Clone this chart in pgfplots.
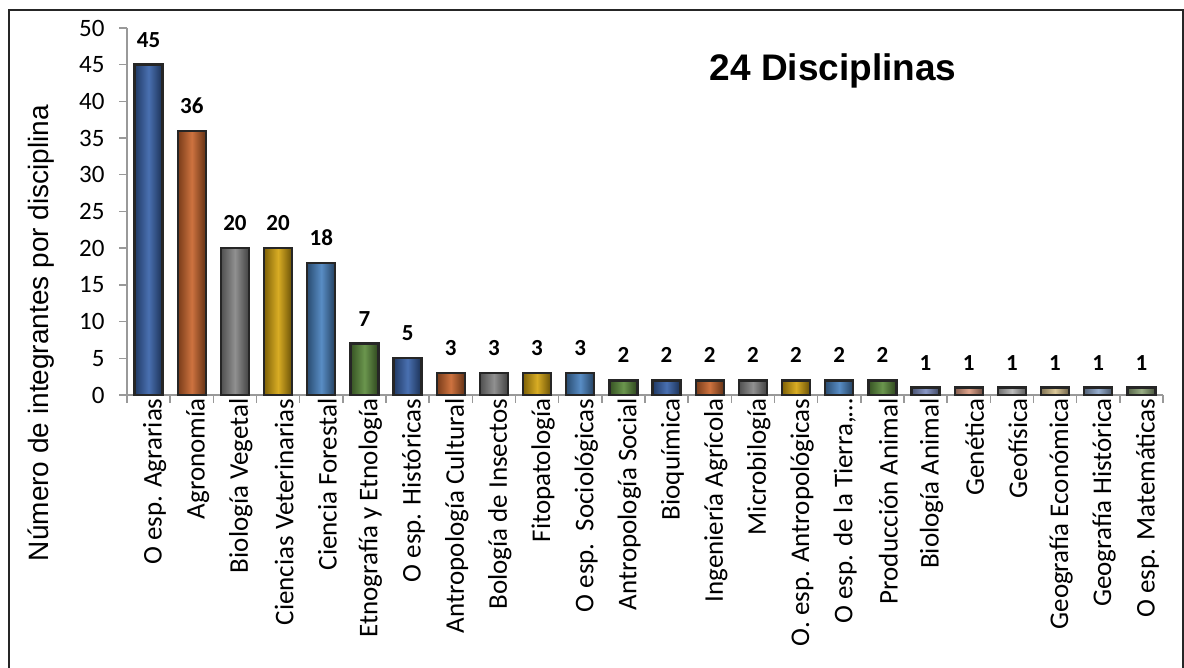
\documentclass[border=0pt]{standalone}
\usepackage{pgfplots}
\pgfplotsset{compat=1.18}
\usepackage{fontspec}
\setmainfont{Carlito}
\newfontfamily\arialf{Liberation Sans}
\definecolor{cBlue}{HTML}{3560A8}
\definecolor{cOrange}{HTML}{C8632A}
\definecolor{cGray}{HTML}{848484}
\definecolor{cGold}{HTML}{D4A30C}
\definecolor{cSteel}{HTML}{4680BE}
\definecolor{cGreen}{HTML}{5A8A3A}
\definecolor{cLav}{HTML}{7C8CC0}
\definecolor{cSalmon}{HTML}{DC9A80}
\definecolor{cLGray}{HTML}{B4B4B4}
\definecolor{cTan}{HTML}{D8C28E}
\definecolor{cLSteel}{HTML}{8CA6CA}
\definecolor{cSage}{HTML}{8EA678}
\pgfplotsset{bev/.style={left color=#1!60!black, right color=#1!50!black, middle color=#1!90!white, draw=black!85, line width=2.4pt}}
\begin{document}
\begin{tikzpicture}
\useasboundingbox (0pt,0pt) rectangle (1184pt,668pt);
\fill[white] (0pt,0pt) rectangle (1184pt,668pt);
\draw[line width=1.6pt, black!85] (9pt,0pt) -- (9pt,658pt) -- (1183pt,658pt) -- (1183pt,0pt);
\begin{axis}[
  at={(127pt,273pt)}, anchor=south west,
  scale only axis, width=1036pt, height=367pt,
  xmin=-0.5, xmax=23.5, ymin=0, ymax=50,
  axis x line*=bottom, axis y line*=left,
  axis line style={draw=black!40, line width=1.4pt, -},
  ytick={0,5,...,50},
  xtick={-0.5,0.5,...,23.5}, xticklabels={},
  tick align=outside, major tick length=8pt,
  tick style={draw=black!40, line width=1.4pt},
  /pgf/number format/assume math mode=true,
  yticklabel style={font=\fontsize{25}{28}\selectfont, xshift=-11pt},
  extra x ticks={0,...,23},
  extra x tick labels={O esp. Agrarias, Agronomía, Biología Vegetal, Ciencias Veterinarias, Ciencia Forestal, Etnografía y Etnología, O esp. Históricas, Antropología Cultural, Bología de Insectos, Fitopatología, O esp.\ \ Sociológicas, Antropología Social, Bioquímica, Ingeniería Agrícola, Microbilogía, O. esp. Antropológicas, {O esp. de la Tierra,…}, Producción Animal, Biología Animal, Genética, Geofísica, Geografía Económica, Geografía Histórica, O esp. Matemáticas},
  extra x tick style={major tick length=0pt, tick label style={rotate=90, anchor=east, font=\fontsize{27}{29}\selectfont, yshift=-6pt}},
  ybar, bar width=28pt, bar shift=0pt,
  nodes near coords,
  nodes near coords style={text=black, font=\bfseries\fontsize{23}{25}\selectfont, anchor=south, yshift=13pt},
  clip=false,
]
\addplot[bev=cBlue] coordinates {(0,45)};
\addplot[bev=cOrange] coordinates {(1,36)};
\addplot[bev=cGray] coordinates {(2,20)};
\addplot[bev=cGold] coordinates {(3,20)};
\addplot[bev=cSteel] coordinates {(4,18)};
\addplot[bev=cGreen] coordinates {(5,7)};
\addplot[bev=cBlue] coordinates {(6,5)};
\addplot[bev=cOrange] coordinates {(7,3)};
\addplot[bev=cGray] coordinates {(8,3)};
\addplot[bev=cGold] coordinates {(9,3)};
\addplot[bev=cSteel] coordinates {(10,3)};
\addplot[bev=cGreen] coordinates {(11,2)};
\addplot[bev=cBlue] coordinates {(12,2)};
\addplot[bev=cOrange] coordinates {(13,2)};
\addplot[bev=cGray] coordinates {(14,2)};
\addplot[bev=cGold] coordinates {(15,2)};
\addplot[bev=cSteel] coordinates {(16,2)};
\addplot[bev=cGreen] coordinates {(17,2)};
\addplot[bev=cLav] coordinates {(18,1)};
\addplot[bev=cSalmon] coordinates {(19,1)};
\addplot[bev=cLGray] coordinates {(20,1)};
\addplot[bev=cTan] coordinates {(21,1)};
\addplot[bev=cLSteel] coordinates {(22,1)};
\addplot[bev=cSage] coordinates {(23,1)};
\end{axis}
\node[rotate=90, font=\arialf\fontsize{28}{31}\selectfont] at (41pt,335pt) {Número de integrantes por disciplina};
\node[font=\arialf\bfseries\fontsize{37}{41}\selectfont] at (833pt,597pt) {24 Disciplinas};
\end{tikzpicture}
\end{document}
